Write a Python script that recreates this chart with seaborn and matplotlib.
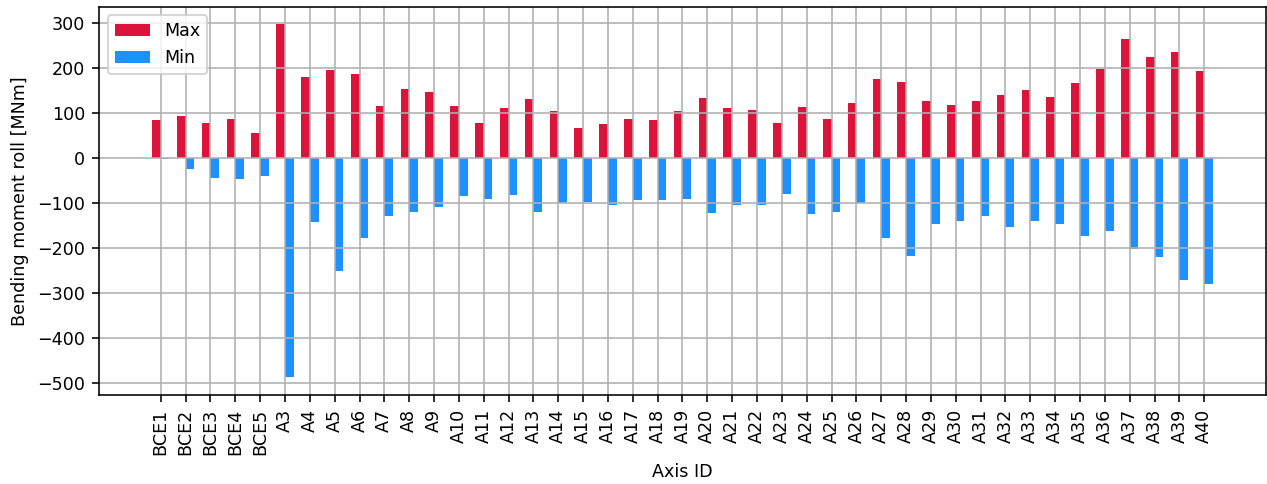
import numpy as np
import pandas as pd
import matplotlib
matplotlib.use("Agg")
import matplotlib.pyplot as plt
import seaborn as sns

categories = ["BCE1", "BCE2", "BCE3", "BCE4", "BCE5"] + [f"A{i}" for i in range(3, 41)]

max_values = [84, 93, 77, 88, 55, 298, 180, 197, 186, 115, 153, 146, 115, 79,
              111, 131, 104, 66, 75, 88, 84, 104, 133, 111, 108, 77, 113, 86,
              122, 177, 169, 128, 117, 128, 140, 151, 135, 166, 198, 264, 226,
              235, 193]
min_values = [-2, -25, -45, -47, -39, -488, -143, -252, -177, -130, -119, -110,
              -85, -92, -83, -119, -99, -97, -105, -94, -94, -90, -123, -105,
              -105, -81, -125, -119, -99, -179, -217, -146, -139, -128, -154,
              -141, -146, -174, -163, -203, -221, -272, -281]

series_names = ["Max", "Min"]
colors = {"Max": "crimson", "Min": "dodgerblue"}

df = pd.DataFrame({
    "Axis ID": categories * 2,
    "Type": ["Max"] * len(categories) + ["Min"] * len(categories),
    "Value": max_values + min_values,
})

plt.rcParams["font.size"] = 8.75

W, H, DPI = 1267, 484, 144
fig, ax = plt.subplots(figsize=(W / DPI, H / DPI), dpi=DPI)
fig.subplots_adjust(left=99 / W, right=1266 / W, top=1 - 6.5 / H, bottom=1 - 395 / H)

width = 0.7
sns.barplot(data=df, x="Axis ID", y="Value", hue="Type", hue_order=series_names,
            order=categories, palette=colors, saturation=1, width=width,
            linewidth=0, errorbar=None, ax=ax)

n = len(categories)
span = (n - 1) + width
ax.set_xlim(-width / 2 - 0.05 * span, (n - 1) + width / 2 + 0.05 * span)
ax.grid(True)
ax.set_axisbelow("line")
ax.tick_params(axis="x", rotation=90)
ax.set_xlabel("Axis ID")
ax.set_ylabel("Bending moment roll [MNm]")
ax.set_yticks(np.arange(-500, 301, 100))

handles, labels = ax.get_legend_handles_labels()
ax.legend(handles, labels, loc="upper left")

fig.savefig("out.png", dpi=DPI)
